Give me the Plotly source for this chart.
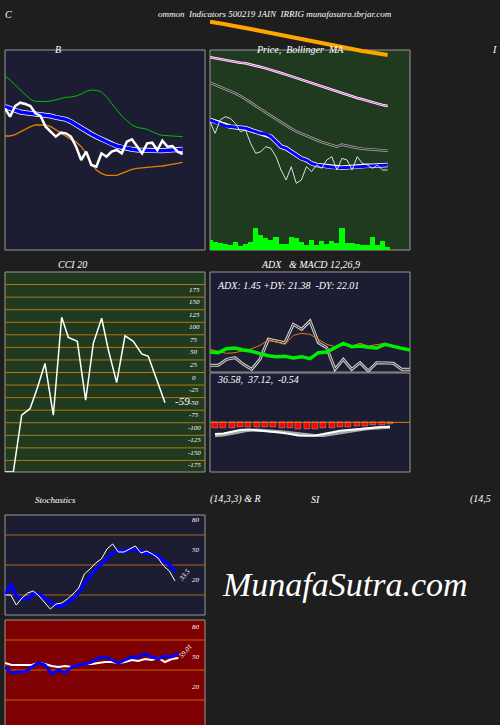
import plotly.graph_objects as go

W, H = 500, 725

# ---- data (screen-ish units) ----
bb_close = [325,350,318,308,312,318,340,348,380,395,410,398,400,410,440,480,455,495,500,460,470,455,450,460,425,418,440,460,430,428,450,422,440,438,455,462]
bb_mid = [320,326,332,336,338,340,341,342,344,348,352,355,358,365,375,385,395,402,410,418,425,432,438,442,446,448,450,451,452,452,452,452,451,450,449,448]
bb_upper = [228,240,255,270,285,298,304,305,305,303,299,295,292,291,288,282,274,270,271,276,290,310,330,348,362,375,382,385,388,395,402,406,407,407,408,410]
bb_lower = [408,408,404,396,388,380,375,374,375,380,390,400,410,418,425,440,460,490,510,520,526,527,526,520,514,508,505,503,501,500,499,498,496,493,490,487]

px_close = [365,400,360,350,355,370,395,390,430,460,455,440,445,470,510,540,500,550,540,500,515,495,505,480,470,510,475,480,510,470,490,495,505,495,510,510]
px_ma_blue = [360,365,372,378,380,382,383,385,390,395,400,402,410,425,440,445,455,465,475,480,490,495,497,500,502,503,503,502,500,499,498,497,497,496,496,495]
px_ma_white = [248,254,260,266,272,280,288,297,307,318,328,338,348,358,368,378,386,394,401,408,414,420,426,431,436,440,434,438,441,444,446,447,449,450,451,452]
px_ma_pink = [172,175,178,181,184,186,188,190,193,197,201,205,209,214,219,224,229,234,239,245,251,256,261,266,271,276,280,285,289,294,298,303,307,311,315,318]
px_ma_orange = [65,67,70,73,76,78,81,84,87,90,93,96,99,102,106,110,114,117,120,123,126,129,132,135,138,141,144,147,149,151,153,155,158,160,162,165]
volume = [30,25,22,18,15,25,12,18,25,65,45,35,30,40,18,18,40,35,25,15,30,15,28,18,28,20,65,20,22,18,15,15,40,15,28,8]

cci_x = [15,40,65,90,110,135,160,185,205,232,257,280,305,325,350,375,400,425,445,495]
cci = [-198,-198,-85,-72,-35,18,-85,110,70,62,-55,58,108,45,-20,73,62,37,32,-60]
cci_levels = [175,150,125,100,75,50,25,0,-25,-50,-75,-100,-125,-150,-175]

adx_green = [278,280,268,266,272,276,283,289,292,291,296,292,298,280,278,266,252,262,260,264,266,255,262,267,272]
adx_orange = [270,275,282,280,275,268,258,242,248,255,228,222,225,240,255,262,258,260,252,260,255,252,260,268,270]
adx_gray = [318,318,300,295,315,330,300,240,245,250,195,210,185,250,265,330,300,330,310,335,310,310,312,330,330]

macd_hist = [505,505,503,502,500,500,500,502,504,505,506,507,506,505,503,501,500,498,497,495,494,493]
macd_line = [522,520,515,510,508,510,514,516,518,522,526,527,526,522,516,512,510,507,505,503,501,500]
macd_signal = [527,525,520,515,511,510,511,513,515,518,521,524,526,526,522,518,514,510,507,505,503,502]

stoch_k = [20,20,10,17,22,24,19,12,6,11,12,16,21,27,41,46,52,56,66,71,63,63,66,69,62,64,61,57,49,44,34]
stoch_d = [19,31,19,16,16,21,21,17,12,9,9,12,16,22,31,39,46,51,57,62,65,63,66,65,64,61,61,59,54,51,43]

rsi_w = [57,55,55,55,55,57,56,54,53,54,53,55,56,56,57,58,58,57,58,60,59,61,60,62,58,61,62]
rsi_b = [53,47,48,48,53,57,55,46,50,47,53,55,56,58,62,63,60,57,60,63,63,66,63,61,64,63,67]

FONT = dict(family="Liberation Serif", color="white", style="italic")

fig = go.Figure()
shapes, annos = [], []


def xd(a, b):
    return [a / W, b / W]


def yd(top, bot):
    return [max(0, 1 - bot / H), 1 - top / H]


def panel(x0, y0, x1, y1, color):
    shapes.append(dict(type="rect", xref="paper", yref="paper", x0=x0 / W, x1=x1 / W,
                       y0=1 - y1 / H, y1=1 - y0 / H, fillcolor=color,
                       line=dict(color="#999999", width=1), layer="below"))


def axes(n, xdom, ydom, xr, yr):
    s = "" if n == 1 else str(n)
    fig.layout["xaxis" + s] = dict(domain=xdom, range=xr, visible=False, fixedrange=True, anchor="y" + s)
    fig.layout["yaxis" + s] = dict(domain=ydom, range=yr, visible=False, fixedrange=True, anchor="x" + s)


def line(n, x, y, color, width):
    s = "" if n == 1 else str(n)
    fig.add_trace(go.Scatter(x=x, y=y, mode="lines", line=dict(color=color, width=width),
                             xaxis="x" + s, yaxis="y" + s, hoverinfo="skip"))


def text(x, y, t, size=10, angle=0, anchor="center"):
    annos.append(dict(x=x / W, y=1 - y / H, xref="paper", yref="paper", text=t, showarrow=False,
                      font=dict(FONT, size=size), textangle=angle, xanchor=anchor))


idx = list(range(36))

# Bollinger
panel(5, 50, 205, 250, "#1c1c33")
axes(1, xd(5, 205), yd(50, 250), [0, 39.4], [750, 150])
line(1, idx, bb_upper, "#00c000", 1)
line(1, idx, bb_lower, "#e08000", 1.3)
line(1, idx, bb_mid, "#ffffff", 5)
line(1, idx, bb_mid, "#0000ff", 3.5)
line(1, idx, bb_close, "#ffffff", 2.5)

# Price + MAs
panel(210, 50, 410, 250, "#1f3a1f")
axes(2, xd(210, 410), yd(15, 250), [0, 39.4], [750, 45])
fig.layout["yaxis9"] = dict(domain=yd(50, 250), range=[0, 600], visible=False, anchor="x2", fixedrange=True)
fig.add_trace(go.Bar(x=idx, y=volume, marker=dict(color="#00ff00", line_width=0), width=1,
                     xaxis="x2", yaxis="y9", hoverinfo="skip"))
line(2, idx, px_ma_orange, "#ffa500", 4)
line(2, idx, px_ma_pink, "#ffffff", 2.5)
line(2, idx, px_ma_pink, "#e050e0", 1)
line(2, idx, px_ma_white, "#aaaaaa", 2.5)
line(2, idx, px_ma_white, "#000000", 0.8)
line(2, idx, px_ma_blue, "#ffffff", 4.5)
line(2, idx, px_ma_blue, "#0000ff", 3)
line(2, idx, px_close, "#dddddd", 1)

# CCI
panel(5, 272, 205, 472, "#1f3a1f")
axes(3, xd(5, 205), yd(272, 472), [15, 615], [-198, 200])
for lv in cci_levels:
    fig.add_trace(go.Scatter(x=[15, 615], y=[lv, lv], mode="lines", line=dict(color="#b07a10", width=1),
                             xaxis="x3", yaxis="y3", hoverinfo="skip"))
    text(194, 272 + (200 - lv) / 398 * 200 + 5, str(lv), size=7)
line(3, cci_x, cci, "#ffffff", 1.5)
text(182, 401, "-59", size=11)

# ADX
panel(210, 272, 410, 372, "#1c1c33")
ax_x = [630 + 25 * i for i in range(25)]
axes(4, xd(210, 410), yd(272, 372), [630, 1230], [338, 38])
line(4, ax_x, adx_gray, "#cccccc", 3)
line(4, ax_x, adx_gray, "#333333", 1)
line(4, ax_x, adx_orange, "#e08000", 1)
line(4, ax_x, adx_green, "#00ee00", 3.5)

# MACD
panel(210, 373, 410, 472, "#1c1c33")
mx = [645 + 25 * i for i in range(22)]
axes(5, xd(210, 410), yd(373, 472), [630, 1230], [635, 340])
fig.add_trace(go.Scatter(x=[630, 1230], y=[487, 487], mode="lines", line=dict(color="#e08000", width=1),
                         xaxis="x5", yaxis="y5", hoverinfo="skip"))
fig.add_trace(go.Bar(x=mx, y=[v - 487 for v in macd_hist], base=487, width=18,
                     marker=dict(color="#ff0000", line=dict(color="#ffffff", width=0.3)),
                     xaxis="x5", yaxis="y5", hoverinfo="skip"))
line(5, mx, macd_signal, "#aaaaaa", 3)
line(5, mx, macd_line, "#ffffff", 2)

# Stochastics
panel(5, 515, 205, 615, "#1c1c33")
sx = [15 + 17 * i for i in range(31)]
axes(6, xd(5, 205), yd(515, 615), [15, 615], [0, 100])
for lv in [80, 50, 20]:
    fig.add_trace(go.Scatter(x=[15, 615], y=[lv, lv], mode="lines", line=dict(color="#b06010", width=1),
                             xaxis="x6", yaxis="y6", hoverinfo="skip"))
    text(196, 615 - lv - 9, str(lv), size=7)
line(6, sx, stoch_d, "#0000ff", 3.5)
line(6, sx, stoch_k, "#ffffff", 1)
text(185, 586, "33.5", size=7, angle=-50)

# RSI
panel(5, 620, 205, 730, "#7f0000")
rx = [15 + 20 * i for i in range(27)]
axes(7, xd(5, 205), yd(620, 725), [15, 615], [-5, 100])
for lv in [80, 50, 20]:
    fig.add_trace(go.Scatter(x=[15, 615], y=[lv, lv], mode="lines", line=dict(color="#d06000", width=1),
                             xaxis="x7", yaxis="y7", hoverinfo="skip"))
    text(196, 725 - (lv + 5) - 7, str(lv), size=7)
line(7, rx, rsi_w, "#ffffff", 2)
line(7, rx, rsi_b, "#0000ff", 3)
text(186, 663, "59.01", size=7, angle=-50)

# titles
text(275, 7, "ommon  Indicators 500219 JAIN  IRRIG munafasutra.tbrjar.com", size=9)
text(8, 7, "C", size=10)
text(58, 42, "B", size=10)
text(300, 42, "Price,  Bollinger  MA", size=10)
text(494, 42, "I", size=10)
text(72, 264, "CCI 20", size=10)
text(310, 264, "ADX   & MACD 12,26,9", size=10)
text(215, 285, "ADX: 1.45 +DY: 21.38  -DY: 22.01", size=10, anchor="left")
text(215, 379, "36.58,  37.12,  -0.54", size=10, anchor="left")
text(55, 507, "Stochastics", size=9)
text(235, 507, "(14,3,3) & R", size=10)
text(315, 507, "SI", size=10)
text(480, 507, "(14,5", size=10)
text(345, 605, "MunafaSutra.com", size=34)

fig.update_layout(width=W, height=H, margin=dict(l=0, r=0, t=0, b=0), showlegend=False,
                  paper_bgcolor="#1e1e1e", plot_bgcolor="rgba(0,0,0,0)", bargap=0,
                  shapes=shapes, annotations=annos)
fig.write_html("out.html", config={"displayModeBar": False},
               post_script="document.body.style.margin='0';document.body.style.overflow='hidden';document.body.style.background='#1e1e1e';")
